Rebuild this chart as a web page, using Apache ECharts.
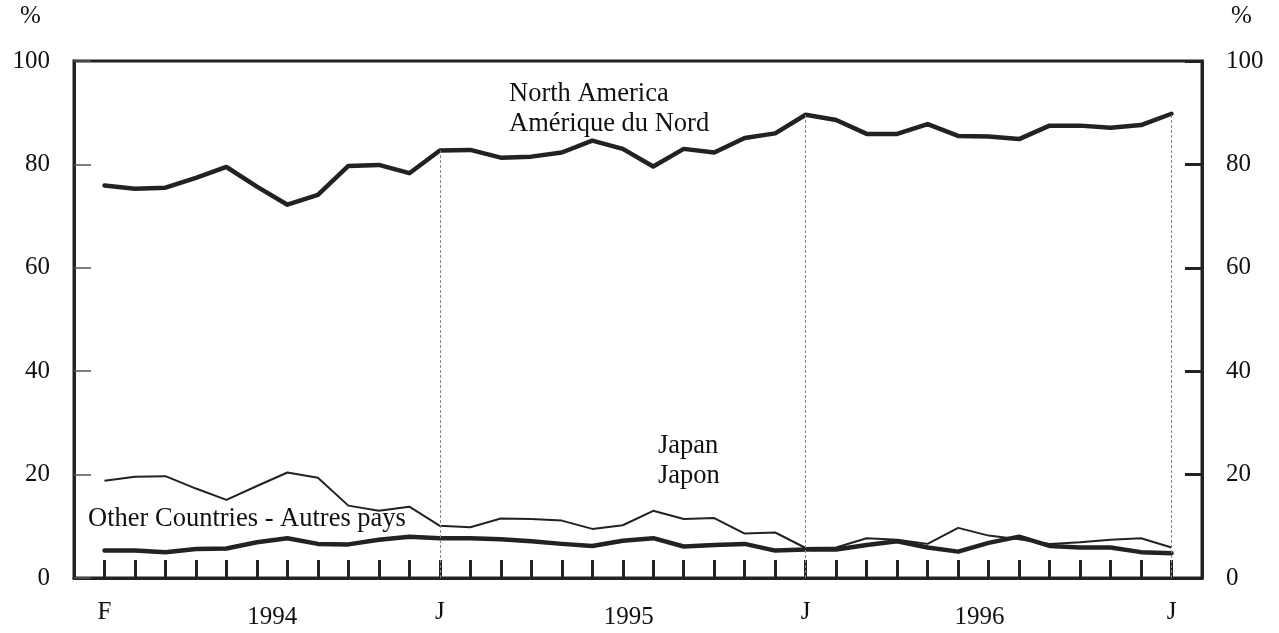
<!DOCTYPE html>
<html>
<head>
<meta charset="utf-8">
<script src="https://cdn.jsdelivr.net/npm/echarts@6/dist/echarts.min.js"></script>
<style>
html,body{margin:0;padding:0;background:#fff;}
#chart{width:1279px;height:633px;}
</style>
</head>
<body>
<div id="chart"></div>
<script>
// Monthly data, Feb 1994 .. Jan 1997 (36 months)
const northAmerica = [75.9,75.3,75.5,77.4,79.5,75.7,72.2,74.1,79.7,79.9,78.3,82.7,
                      82.8,81.3,81.5,82.3,84.6,83.0,79.6,83.0,82.3,85.1,86.0,89.6,
                      88.6,85.9,85.9,87.8,85.5,85.4,84.9,87.5,87.5,87.1,87.6,89.8];
const japan = [18.8,19.6,19.7,17.3,15.1,17.8,20.4,19.4,14.0,13.0,13.8,10.1,
               9.8,11.5,11.4,11.1,9.5,10.2,13.0,11.4,11.6,8.6,8.8,5.8,
               5.9,7.7,7.4,6.6,9.7,8.2,7.5,6.6,6.9,7.4,7.7,5.9];
const otherCountries = [5.3,5.3,5.0,5.6,5.7,6.9,7.7,6.6,6.5,7.4,8.0,7.7,
                        7.7,7.5,7.1,6.6,6.2,7.2,7.7,6.1,6.4,6.6,5.3,5.5,
                        5.5,6.4,7.1,5.9,5.1,6.8,8.0,6.2,5.9,5.9,5.0,4.8];
// Month tick labels (index -> label)
const monthLabelIdx = [0, 11, 23, 35];
const monthLabels = ['F', 'J', 'J', 'J'];
// Year labels (position along month index -> label)
const yearLabelPos = [5.5, 17.2, 28.7];
const yearLabels = ['1994', '1995', '1996'];
// Months marked with a dashed drop line
const dropIdx = [11, 23, 35];

const FONT = 'Liberation Serif';
const INK = '#222';
const chart = echarts.init(document.getElementById('chart'), null, {renderer: 'canvas'});

const toPairs = arr => arr.map((v, i) => [i, v]);
const allIdx = northAmerica.map((_, i) => i);

const yAxisBase = (pos) => ({
  type: 'value', min: 0, max: 100, interval: 20, position: pos,
  axisLine: {show: true, onZero: false, lineStyle: {color: INK, width: 3}},
  axisTick: {show: true, inside: true, length: 17,
    lineStyle: {color: pos === 'left' ? '#555' : INK, width: pos === 'left' ? 1.5 : 3}},
  axisLabel: {color: '#111', fontFamily: FONT, fontSize: 25, margin: 24},
  splitLine: {show: false}
});

const option = {
  backgroundColor: '#fff',
  animation: false,
  grid: {left: 74, right: 77, top: 61, bottom: 55, show: true,
         borderColor: INK, borderWidth: 3, backgroundColor: 'transparent'},
  xAxis: [{
    type: 'value', min: -1, max: 36, position: 'bottom',
    axisLine: {show: true, onZero: false, lineStyle: {color: INK, width: 3}},
    axisTick: {show: true, inside: true, length: 18, customValues: allIdx,
               lineStyle: {color: INK, width: 3}},
    axisLabel: {customValues: monthLabelIdx, color: '#111', fontFamily: FONT, fontSize: 25, margin: 22,
                formatter: v => monthLabels[monthLabelIdx.indexOf(Math.round(v))] || ''},
    splitLine: {show: false}
  }, {
    type: 'value', min: -1, max: 36, position: 'bottom',
    axisLine: {show: false, onZero: false}, axisTick: {show: false},
    axisLabel: {customValues: yearLabelPos, color: '#111', fontFamily: FONT, fontSize: 25, margin: 27,
                formatter: v => {
                  const k = yearLabelPos.findIndex(p => Math.abs(p - v) < 0.01);
                  return k >= 0 ? yearLabels[k] : '';
                }},
    splitLine: {show: false}
  }],
  yAxis: [yAxisBase('left'), yAxisBase('right')],
  series: [{
    name: 'North America', type: 'line', data: toPairs(northAmerica),
    showSymbol: false, symbol: 'none',
    lineStyle: {color: INK, width: 4.5, join: 'round', cap: 'round'},
    markLine: {
      silent: true, symbol: 'none', label: {show: false},
      lineStyle: {color: '#888', width: 1, type: [3, 2]},
      data: dropIdx.map(i => [{coord: [i, 0]}, {coord: [i, northAmerica[i]]}])
    },
    z: 3
  }, {
    name: 'Japan', type: 'line', data: toPairs(japan),
    showSymbol: false, symbol: 'none',
    lineStyle: {color: INK, width: 2, join: 'round'},
    z: 3
  }, {
    name: 'Other Countries', type: 'line', data: toPairs(otherCountries),
    showSymbol: false, symbol: 'none',
    lineStyle: {color: INK, width: 4.5, join: 'round', cap: 'round'},
    z: 4
  }],
  graphic: [
    {type: 'text', left: 509, top: 81, style: {text: 'North America', fontFamily: FONT, fontSize: 26.5, fill: '#111'}},
    {type: 'text', left: 509, top: 111, style: {text: 'Amérique du Nord', fontFamily: FONT, fontSize: 26.5, fill: '#111'}},
    {type: 'text', left: 658, top: 433, style: {text: 'Japan', fontFamily: FONT, fontSize: 26.5, fill: '#111'}},
    {type: 'text', left: 658, top: 463, style: {text: 'Japon', fontFamily: FONT, fontSize: 26.5, fill: '#111'}},
    {type: 'text', left: 88, top: 506, style: {text: 'Other Countries - Autres pays', fontFamily: FONT, fontSize: 26.5, fill: '#111'}},
    {type: 'text', left: 20, top: 4, style: {text: '%', fontFamily: FONT, fontSize: 25, fill: '#111'}},
    {type: 'text', left: 1231, top: 4, style: {text: '%', fontFamily: FONT, fontSize: 25, fill: '#111'}}
  ]
};
chart.setOption(option);
</script>
</body>
</html>
